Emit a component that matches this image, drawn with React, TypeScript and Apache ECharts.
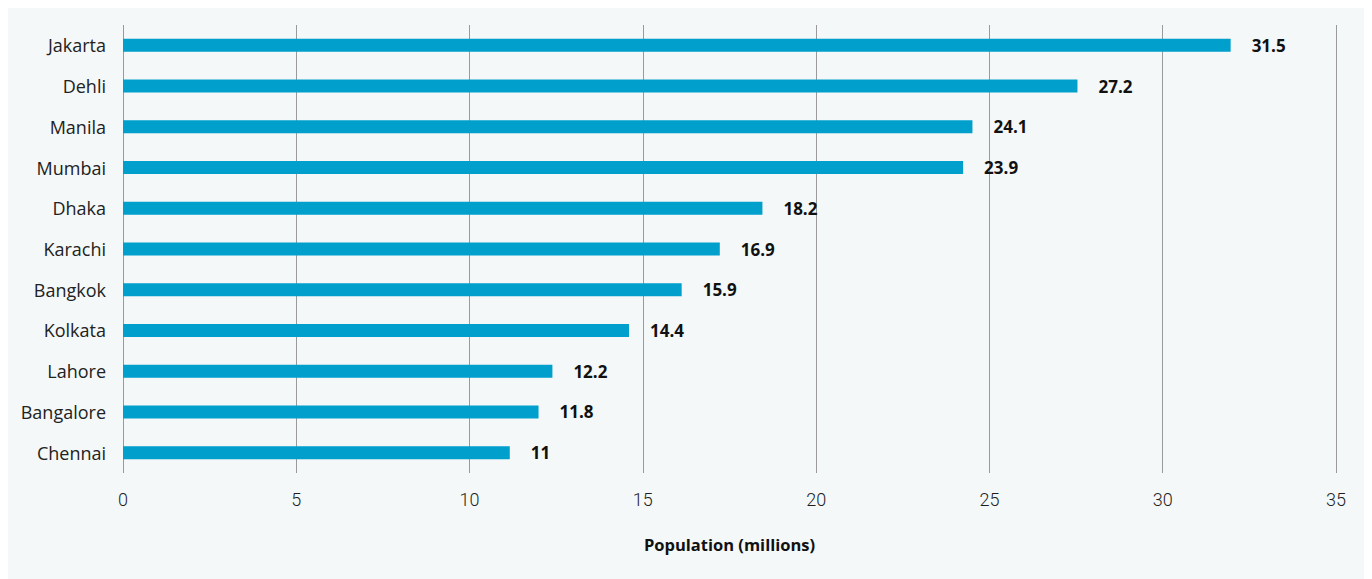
import React, { useEffect, useRef } from "react";
import * as echarts from "echarts";

const cities = [
  "Jakarta",
  "Dehli",
  "Manila",
  "Mumbai",
  "Dhaka",
  "Karachi",
  "Bangkok",
  "Kolkata",
  "Lahore",
  "Bangalore",
  "Chennai",
];
// bar lengths as drawn in the picture
const barValues = [31.96, 27.54, 24.51, 24.24, 18.45, 17.22, 16.12, 14.6, 12.39, 11.99, 11.16];
// printed value labels
const valueLabels = ["31.5", "27.2", "24.1", "23.9", "18.2", "16.9", "15.9", "14.4", "12.2", "11.8", "11"];
const xMin = 0;
const xMax = 35;
const xInterval = 5;
const axisTitle = "Population (millions)";

export default function App() {
  const ref = useRef<HTMLDivElement>(null);
  useEffect(() => {
    if (!ref.current) return;
    const chart = echarts.init(ref.current, undefined, { renderer: "svg" });
    const catsRev = [...cities].reverse();
    const valsRev = [...barValues].reverse();
    const labsRev = [...valueLabels].reverse();
    chart.setOption({
      animation: false,
      backgroundColor: "#f4f8f9",
      grid: { left: 115, right: 36, top: 17, bottom: 106, containLabel: false },
      xAxis: {
        type: "value",
        min: xMin,
        max: xMax,
        interval: xInterval,
        axisLine: { show: false },
        axisTick: { show: false },
        splitLine: { show: true, lineStyle: { color: "#9a9a9a", width: 1 } },
        axisLabel: {
          margin: 17,
          fontFamily: "Roboto, sans-serif",
          fontWeight: 300,
          fontSize: 18,
          color: "#1e1e1e",
        },
        name: axisTitle,
        nameLocation: "middle",
        nameGap: 63,
        nameTextStyle: {
          fontFamily: "'Open Sans', sans-serif",
          fontWeight: "bold",
          fontSize: 16.5,
          color: "#111",
        },
      },
      yAxis: {
        type: "category",
        data: catsRev,
        axisLine: { show: false },
        axisTick: { show: false },
        splitLine: { show: false },
        axisLabel: {
          margin: 17,
          fontFamily: "'Open Sans', sans-serif",
          fontSize: 18,
          color: "#222",
        },
      },
      series: [
        {
          type: "bar",
          data: valsRev,
          barWidth: 13,
          itemStyle: { color: "#019fcc" },
          label: {
            show: true,
            position: "right",
            distance: 21,
            formatter: (p: any) => labsRev[p.dataIndex],
            fontFamily: "'Open Sans', sans-serif",
            fontWeight: "bold",
            fontSize: 17,
            color: "#111",
          },
        },
      ],
    });
    return () => chart.dispose();
  }, []);
  return <div ref={ref} style={{ width: 1364, height: 571 }} />;
}
